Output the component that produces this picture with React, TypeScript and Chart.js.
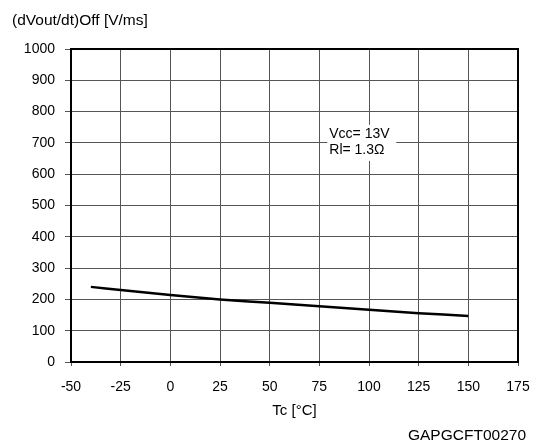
import React, { useEffect, useRef } from "react";
import { Chart, registerables } from "chart.js";

Chart.register(...registerables);

const tcValues = [-40, -25, 0, 25, 50, 75, 100, 125, 150];
const dvdtOff = [240, 230, 214, 200, 189, 178, 167, 156, 147];
const xTicks = [-50, -25, 0, 25, 50, 75, 100, 125, 150, 175];
const yTicks = [0, 100, 200, 300, 400, 500, 600, 700, 800, 900, 1000];
const yTitle = "(dVout/dt)Off [V/ms]";
const xTitle = "Tc [°C]";
const codeLabel = "GAPGCFT00270";
const noteLines = ["Vcc= 13V", "Rl= 1.3Ω"];

const FONT = "Arial, 'Liberation Sans', sans-serif";
const FS = 14;

const extrasPlugin = {
  id: "extras",
  afterDatasetsDraw(chart: any) {
    const { ctx, chartArea, scales } = chart;
    const x = scales.x;
    const y = scales.y;
    ctx.save();
    // annotation box
    const ax = x.getPixelForValue(80);
    const ay = y.getPixelForValue(700);
    ctx.font = `${FS}px ${FONT}`;
    ctx.fillStyle = "#ffffff";
    ctx.fillRect(ax - 2, ay - 18, 69, 36);
    ctx.fillStyle = "#000";
    ctx.textAlign = "left";
    ctx.textBaseline = "middle";
    ctx.fillText(noteLines[0], ax, ay - 9);
    ctx.fillText(noteLines[1], ax, ay + 7);
    // frame
    ctx.strokeStyle = "#000";
    ctx.lineWidth = 2;
    ctx.strokeRect(chartArea.left, chartArea.top, chartArea.right - chartArea.left, chartArea.bottom - chartArea.top);
    // titles
    ctx.textBaseline = "middle";
    ctx.textAlign = "left";
    ctx.font = `15.5px ${FONT}`;
    ctx.fillText(yTitle, 12, 21);
    ctx.textAlign = "right";
    ctx.fillText(codeLabel, 526, 436);
    ctx.textAlign = "center";
    ctx.font = `15px ${FONT}`;
    ctx.fillText(xTitle, (chartArea.left + chartArea.right) / 2, 411);
    ctx.restore();
  },
};

export default function App() {
  const ref = useRef<HTMLCanvasElement>(null);
  useEffect(() => {
    const chart = new Chart(ref.current!, {
      type: "line",
      data: {
        datasets: [
          {
            data: tcValues.map((t, i) => ({ x: t, y: dvdtOff[i] })),
            borderColor: "#000",
            borderWidth: 2.5,
            pointRadius: 0,
            tension: 0.3,
            fill: false,
          },
        ],
      },
      options: {
        animation: false,
        responsive: false,
        maintainAspectRatio: false,
        layout: { padding: { left: 0, top: 49, right: 18, bottom: 0 } },
        plugins: { legend: { display: false }, tooltip: { enabled: false } },
        scales: {
          x: {
            type: "linear",
            min: -50,
            max: 175,
            afterBuildTicks: (s: any) => {
              s.ticks = xTicks.map((v) => ({ value: v }));
            },
            afterFit: (s: any) => {
              s.height = 83;
              s.paddingLeft = 0;
              s.paddingRight = 0;
            },
            ticks: {
              color: "#000",
              font: { family: FONT, size: FS },
              padding: 13,
              maxRotation: 0,
              callback: (v: any) => String(v),
            },
            grid: { color: "#555", lineWidth: 1, tickLength: 4 },
            border: { display: false },
          },
          y: {
            type: "linear",
            min: 0,
            max: 1000,
            afterBuildTicks: (s: any) => {
              s.ticks = yTicks.map((v) => ({ value: v }));
            },
            afterFit: (s: any) => {
              s.width = 71;
              s.paddingTop = 0;
              s.paddingBottom = 0;
            },
            ticks: {
              color: "#000",
              font: { family: FONT, size: FS },
              padding: 10,
              callback: (v: any) => String(v),
            },
            grid: { color: "#555", lineWidth: 1, tickLength: 6 },
            border: { display: false },
          },
        },
      },
      plugins: [extrasPlugin],
    });
    return () => chart.destroy();
  }, []);
  return (
    <div style={{ position: "fixed", left: 0, top: 0, width: 536, height: 445, background: "#fff" }}>
      <canvas ref={ref} width={536} height={445} />
    </div>
  );
}
